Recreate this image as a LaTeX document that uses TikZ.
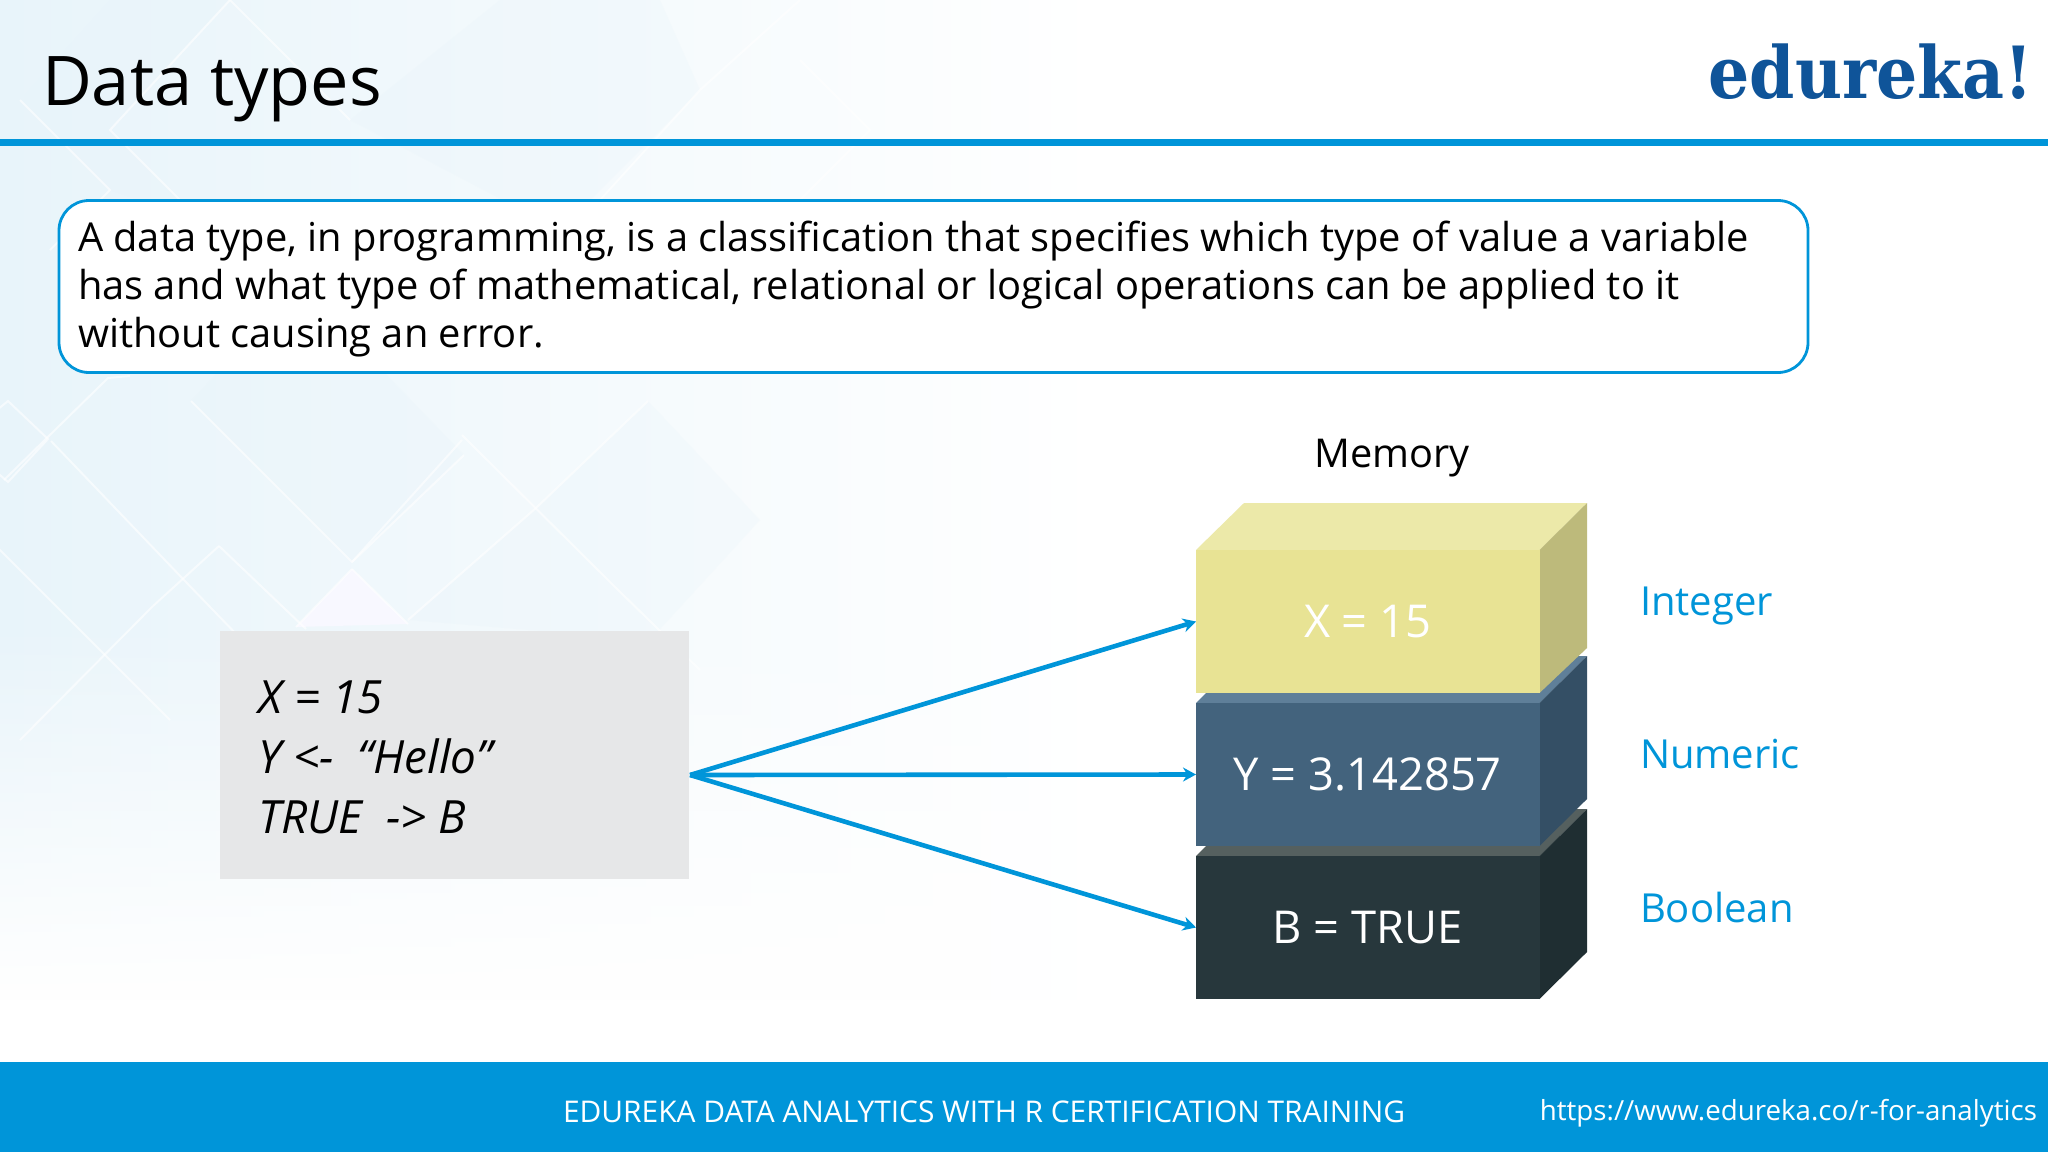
\documentclass[tikz,border=0pt]{standalone}
\usepackage{fontspec}
\setmainfont{Open Sans}
\newfontfamily\logofont[FakeStretch=0.9]{DejaVu Serif}
\usetikzlibrary{arrows.meta,fadings}
\definecolor{ebar}{HTML}{0095D9}
\definecolor{elogo}{HTML}{0F5499}
\definecolor{ebg}{HTML}{E8F4FA}
\definecolor{ecode}{HTML}{E6E7E8}
\definecolor{btop}{HTML}{55605F}
\definecolor{bside}{HTML}{1F2E32}
\definecolor{bfront}{HTML}{27373C}
\definecolor{ntop}{HTML}{5F7F99}
\definecolor{nside}{HTML}{344F65}
\definecolor{nfront}{HTML}{43637D}
\definecolor{itop}{HTML}{ECE9A9}
\definecolor{iside}{HTML}{BDBA7B}
\definecolor{ifront}{HTML}{E8E394}
\newcommand{\fs}[2]{\fontsize{#1}{#2}\selectfont}
\tikzset{
  x=1pt,y=-1pt,
  txt/.style={inner sep=0pt,outer sep=0pt,align=left},
  front/.style={fill=#1,text=white,font=\fs{45.3}{50},inner sep=0pt,outer sep=0pt,minimum width=343.5pt,minimum height=143pt,anchor=north west},
  typelabel/.style={txt,anchor=base west,text=ebar,font=\fs{40}{46}},
  conn/.style={draw=ebar,line width=4.6pt,-{Stealth[length=13pt,width=14pt]}},
  diam/.style={draw=white,line width=2pt,draw opacity=.6,line join=miter},
  tint/.style={fill=ebg,opacity=.25},
}
\begin{document}
\begin{tikzpicture}
\useasboundingbox (0,0) rectangle (2048,1152);
% background
\fill[white] (0,0) rectangle (2048,1152);
\shade[left color=ebg,right color=white] (0,0) rectangle (1100,1062);
\fill[tint] (191,401) -- (300,285) -- (464,455) -- (352,562) -- cycle;
\fill[tint] (408,620) -- (536,508) -- (648,401) -- (760,520) -- (650,640) -- cycle;
\fill[tint] (350,120) -- (500,0) -- (660,0) -- (700,90) -- (560,230) -- cycle;
\fill[tint] (20,100) -- (110,0) -- (230,0) -- (110,130) -- (200,220) -- (110,190) -- cycle;
\fill[ebg!60!blue!6!white] (352,569) -- (296,627) -- (408,624) -- cycle;
\draw[diam] (191,401) -- (352,562) -- (464,455);
\draw[diam] (352,569) -- (296,627);
\draw[diam] (352,569) -- (408,624);
\draw[diam] (219,546) -- (306,629);
\draw[diam] (219,546) -- (153,606);
\draw[diam] (8,401) -- (48,439) -- (8,482) -- (-40,440) -- cycle;
\draw[diam] (51,441) -- (184,580) -- (300,700);
\draw[diam] (4,480) -- (108,378) -- (130,376);
\draw[diam] (462,435) -- (612,584) -- (700,670);
\draw[diam] (408,620) -- (536,508) -- (648,401);
\draw[diam] (352,562) -- (462,440);
\draw[diam] (153,606) -- (20,740);
\draw[diam] (-20,530) -- (170,720);
\draw[diam] (20,100) -- (110,190) -- (50,250);
\draw[diam] (230,0) -- (110,130) -- (200,220);
\draw[diam] (800,60) -- (870,130) -- (800,200);
\draw[diam] (600,200) -- (700,90) -- (800,0);
\draw[diam] (350,120) -- (230,0);
\fill[white,path fading=north] (0,620) rectangle (1200,1000);
\fill[white] (0,1000) rectangle (1200,1062);
% header
\node[txt,anchor=base west,font=\fs{68.5}{72}] (title) at (42,105) {Data types};
\node[txt,anchor=base east,text=elogo,font=\logofont\bfseries\fs{72}{76}] (logo) at (2033,98) {edureka!};
\fill[ebar] (0,139) rectangle (2048,146);
% definition box
\node[draw=ebar,line width=2.8pt,fill=white,rounded corners=30pt,minimum width=1749pt,minimum height=172pt,anchor=north west,inner sep=0pt,outer sep=0pt] (defbox) at (59,200.5) {};
\node[txt,anchor=north west,font=\fs{39.85}{47.8}] (deftext) at (78,221.5) {A data type, in programming, is a classification that specifies which type of value a variable\\has and what type of mathematical, relational or logical operations can be applied to it\\without causing an error.};
% code box
\node[fill=ecode,minimum width=469pt,minimum height=248pt,anchor=north west,inner sep=0pt,outer sep=0pt] (code) at (219.5,631) {};
\node[txt,anchor=north west,font=\itshape\fs{45.8}{60}] (codetext) at (258.5,681) {X = 15\\Y <-\ \ “Hello”\\TRUE\ \ -> B};
% memory
\node[font=\fs{39.7}{44},inner sep=0pt] (memtitle) at (1392,458) {Memory};
% boolean block
\fill[btop] (1196,856) -- (1244,809) -- (1587,809) -- (1539.5,856) -- cycle;
\fill[bside] (1539.5,856) -- (1587,809) -- (1587,952) -- (1539.5,999) -- cycle;
\node[front=bfront] (bool) at (1196,856) {B = TRUE};
% numeric block
\fill[ntop] (1196,703) -- (1244,656) -- (1587,656) -- (1539.5,703) -- cycle;
\fill[nside] (1539.5,703) -- (1587,656) -- (1587,799) -- (1539.5,846) -- cycle;
\node[front=nfront] (num) at (1196,703) {Y = 3.142857};
% integer block
\fill[itop] (1196,550) -- (1244,503) -- (1587,503) -- (1539.5,550) -- cycle;
\fill[iside] (1539.5,550) -- (1587,503) -- (1587,648) -- (1539.5,693) -- cycle;
\node[front=ifront] (int) at (1196,550) {X = 15};
% labels
\node[typelabel] (l1) at (1640,615) {Integer};
\node[typelabel] (l2) at (1640,768.5) {Numeric};
\node[typelabel] (l3) at (1640,922.5) {Boolean};
% connectors
\coordinate (src) at (690,775);
\draw[conn] (src) -- (int.west);
\draw[conn] (src) -- (num.west);
\draw[conn] (src) -- (bool.west);
% footer
\fill[ebar] (0,1062) rectangle (2048,1152);
\node[txt,anchor=base west,text=white,font=\fs{29.9}{36}] (foot1) at (563,1122) {EDUREKA DATA ANALYTICS WITH R CERTIFICATION TRAINING};
\node[txt,anchor=base east,text=white,font=\fs{27.7}{36}] (foot2) at (2037,1120) {https://www.edureka.co/r-for-analytics};
\end{tikzpicture}
\end{document}
